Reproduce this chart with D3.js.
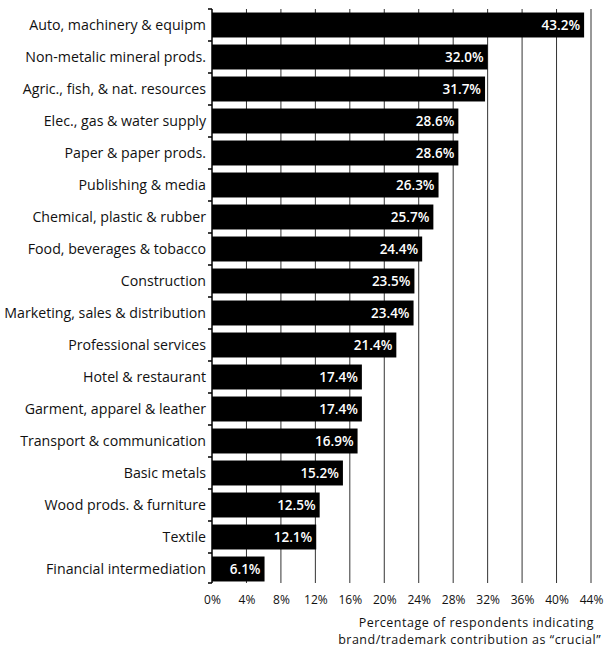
<!DOCTYPE html>
<html>
<head>
<meta charset="utf-8">
<script src="https://cdn.jsdelivr.net/npm/d3@7"></script>
<style>
  body { margin: 0; background: #fff; }
  svg { display: block; font-family: "Open Sans", sans-serif; }
</style>
</head>
<body>
<svg id="chart" width="608" height="652"></svg>
<script>
// Sectors, ranked by share of respondents
const sectors = [
  "Auto, machinery & equipm",
  "Non-metalic mineral prods.",
  "Agric., fish, & nat. resources",
  "Elec., gas & water supply",
  "Paper & paper prods.",
  "Publishing & media",
  "Chemical, plastic & rubber",
  "Food, beverages & tobacco",
  "Construction",
  "Marketing, sales & distribution",
  "Professional services",
  "Hotel & restaurant",
  "Garment, apparel & leather",
  "Transport & communication",
  "Basic metals",
  "Wood prods. & furniture",
  "Textile",
  "Financial intermediation"
];
const crucialShare = [43.2, 32.0, 31.7, 28.6, 28.6, 26.3, 25.7, 24.4, 23.5, 23.4, 21.4, 17.4, 17.4, 16.9, 15.2, 12.5, 12.1, 6.1];
const tickValues = [0, 4, 8, 12, 16, 20, 24, 28, 32, 36, 40, 44];
const axisTitle = ["Percentage of respondents indicating", "brand/trademark contribution as \u201ccrucial\u201d"];

const svg = d3.select("#chart");
const plotLeft = 212, plotRight = 591, plotTop = 9, plotBottom = 585, axisEnd = 583;

const x = d3.scaleLinear().domain([0, 44]).range([plotLeft, plotRight]);
const y = d3.scaleBand().domain(sectors).range([plotTop, plotBottom]).paddingInner(0.22).paddingOuter(0.11);

// vertical gridlines
svg.append("g")
  .selectAll("line")
  .data(tickValues.slice(1))
  .join("line")
  .attr("x1", d => x(d)).attr("x2", d => x(d))
  .attr("y1", plotTop).attr("y2", axisEnd)
  .attr("stroke", "#333").attr("stroke-width", 1);

// bars
svg.append("g")
  .selectAll("rect")
  .data(sectors)
  .join("rect")
  .attr("x", x(0))
  .attr("y", d => y(d))
  .attr("width", (d, i) => x(crucialShare[i]) - x(0))
  .attr("height", y.bandwidth())
  .attr("fill", "#000");

// value labels inside bar ends
svg.append("g")
  .selectAll("text")
  .data(sectors)
  .join("text")
  .attr("x", (d, i) => x(crucialShare[i]) - 4)
  .attr("y", d => y(d) + y.bandwidth() / 2)
  .attr("dy", "0.36em")
  .attr("text-anchor", "end")
  .attr("fill", "#fff")
  .attr("font-size", 13.5)
  .attr("font-weight", 600)
  .text((d, i) => crucialShare[i].toFixed(1) + "%");

// category axis with ticks at band boundaries
const yAxis = svg.append("g");
yAxis.append("line")
  .attr("x1", plotLeft).attr("x2", plotLeft)
  .attr("y1", plotTop).attr("y2", axisEnd)
  .attr("stroke", "#000").attr("stroke-width", 1.5);
const bounds = sectors.map(d => y(d) - y.step() * y.paddingInner() / 2).concat([axisEnd]);
bounds[0] = plotTop;
yAxis.selectAll("line.tick")
  .data(bounds)
  .join("line")
  .attr("class", "tick")
  .attr("x1", plotLeft - 4).attr("x2", plotLeft)
  .attr("y1", d => d).attr("y2", d => d)
  .attr("stroke", "#000").attr("stroke-width", 1.5);
yAxis.selectAll("text")
  .data(sectors)
  .join("text")
  .attr("x", plotLeft - 6)
  .attr("y", d => y(d) + y.bandwidth() / 2)
  .attr("dy", "0.36em")
  .attr("text-anchor", "end")
  .attr("font-size", 14.2)
  .attr("fill", "#111")
  .text(d => d);

// percentage axis labels
const xAxis = d3.axisBottom(x).tickValues(tickValues).tickFormat(d => d + "%").tickSize(0);
svg.append("g")
  .attr("transform", "translate(0,592)")
  .call(xAxis)
  .call(g => g.select(".domain").remove())
  .call(g => g.selectAll("text").attr("font-size", 12).attr("font-family", "Open Sans, sans-serif").attr("fill", "#111"));

// axis title, two right-aligned lines
svg.append("g")
  .selectAll("text")
  .data(axisTitle)
  .join("text")
  .attr("x", (d, i) => i === 0 ? 594 : 601)
  .attr("y", (d, i) => 627 + i * 17)
  .attr("text-anchor", "end")
  .attr("font-size", 12.5)
  .attr("letter-spacing", 0.5)
  .attr("fill", "#111")
  .text(d => d);
</script>
</body>
</html>
